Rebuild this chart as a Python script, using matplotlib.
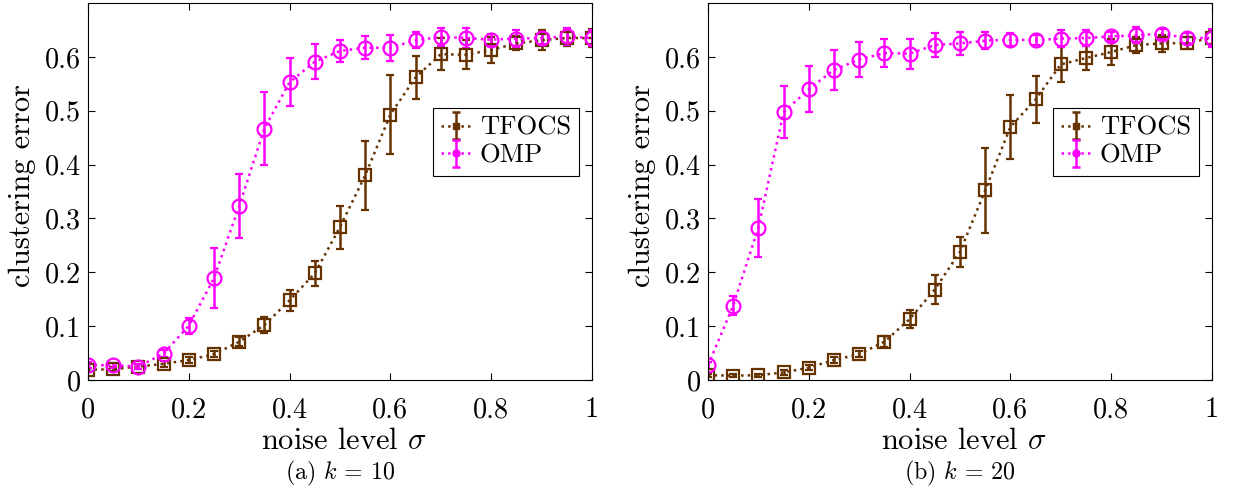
import matplotlib
matplotlib.use('Agg')
import matplotlib.pyplot as plt
from matplotlib.ticker import FuncFormatter
import numpy as np

plt.rcParams['font.family'] = 'cmr10'
plt.rcParams['mathtext.fontset'] = 'cm'
plt.rcParams['axes.formatter.use_mathtext'] = True

# noise levels
sigma = [0.0, 0.05, 0.1, 0.15, 0.2, 0.25, 0.3, 0.35, 0.4, 0.45, 0.5,
         0.55, 0.6, 0.65, 0.7, 0.75, 0.8, 0.85, 0.9, 0.95, 1.0]

# (a) k = 10
tfocs_k10 = [0.019, 0.020, 0.025, 0.030, 0.037, 0.048, 0.071, 0.102, 0.148, 0.198, 0.284,
             0.380, 0.493, 0.562, 0.605, 0.604, 0.613, 0.625, 0.631, 0.635, 0.635]
tfocs_k10_err = [0.004, 0.004, 0.004, 0.005, 0.005, 0.006, 0.008, 0.015, 0.019, 0.023, 0.040,
                 0.064, 0.074, 0.040, 0.030, 0.027, 0.024, 0.013, 0.018, 0.014, 0.016]
omp_k10 = [0.028, 0.027, 0.025, 0.049, 0.101, 0.189, 0.323, 0.467, 0.553, 0.591, 0.611,
           0.617, 0.617, 0.631, 0.637, 0.635, 0.632, 0.634, 0.635, 0.638, 0.635]
omp_k10_err = [0.005, 0.005, 0.004, 0.006, 0.015, 0.056, 0.060, 0.068, 0.044, 0.032, 0.021,
               0.021, 0.024, 0.015, 0.016, 0.018, 0.011, 0.016, 0.011, 0.016, 0.015]

# (b) k = 20
tfocs_k20 = [0.009, 0.008, 0.009, 0.014, 0.023, 0.037, 0.048, 0.071, 0.113, 0.168, 0.238,
             0.352, 0.470, 0.521, 0.586, 0.598, 0.609, 0.622, 0.625, 0.626, 0.635]
tfocs_k20_err = [0.003, 0.003, 0.003, 0.004, 0.004, 0.005, 0.006, 0.010, 0.017, 0.027, 0.028,
                 0.079, 0.060, 0.044, 0.033, 0.023, 0.024, 0.014, 0.016, 0.011, 0.015]
omp_k20 = [0.027, 0.138, 0.283, 0.497, 0.540, 0.576, 0.595, 0.607, 0.606, 0.622, 0.625,
           0.630, 0.632, 0.631, 0.634, 0.635, 0.638, 0.640, 0.643, 0.635, 0.635]
omp_k20_err = [0.006, 0.018, 0.054, 0.048, 0.043, 0.037, 0.032, 0.026, 0.028, 0.022, 0.022,
               0.016, 0.012, 0.009, 0.016, 0.015, 0.009, 0.015, 0.009, 0.010, 0.016]

panels = [
    (r'(a) $k\,=\,10$', tfocs_k10, tfocs_k10_err, omp_k10, omp_k10_err),
    (r'(b) $k\,=\,20$', tfocs_k20, tfocs_k20_err, omp_k20, omp_k20_err),
]

BROWN = '#663300'
MAGENTA = '#ff00ff'

fig = plt.figure(figsize=(12.39, 4.88), dpi=100)
renderer = fig.canvas.get_renderer()


def fit_size(text, target_px, base=20.0):
    """font size that makes `text` about target_px wide"""
    t = fig.text(0, 0, text, fontsize=base)
    w = t.get_window_extent(renderer).width
    t.remove()
    return base * target_px / w


tick_fs = fit_size('0.6', 36)
label_fs = fit_size(r'noise level $\sigma$', 166)
legend_fs = fit_size('TFOCS', 91)
cap_fs = fit_size(r'(a) $k\,=\,10$', 110)

lefts = [0.071, 0.5714]
fmt = FuncFormatter(lambda v, p: '%g' % round(v, 2))

for left, (caption, tf, tf_err, om, om_err) in zip(lefts, panels):
    ax = fig.add_axes([left, 0.2213, 0.4068, 0.7725])
    ax.errorbar(sigma, tf, yerr=tf_err, color=BROWN, ls=':', lw=1.8,
                marker='s', ms=8, mfc='none', mew=1.6, capsize=2.6, elinewidth=1.8,
                capthick=1.8)
    ax.errorbar(sigma, om, yerr=om_err, color=MAGENTA, ls=':', lw=1.8,
                marker='o', ms=10, mfc='none', mew=1.6, capsize=2.6, elinewidth=1.8,
                capthick=1.8)
    ax.set_xlim(0, 1)
    ax.set_ylim(0, 0.7)
    ax.set_xticks([0, 0.2, 0.4, 0.6, 0.8, 1])
    ax.set_yticks([0, 0.1, 0.2, 0.3, 0.4, 0.5, 0.6])
    ax.xaxis.set_major_formatter(fmt)
    ax.yaxis.set_major_formatter(fmt)
    ax.tick_params(direction='in', top=True, right=True, labelsize=tick_fs,
                   length=5, width=0.8)
    ax.tick_params(axis='x', pad=12)
    ax.tick_params(axis='y', pad=5)
    for sp in ax.spines.values():
        sp.set_linewidth(0.8)
    ax.set_xlabel(r'noise level $\sigma$', fontsize=label_fs, va='baseline')
    ax.xaxis.set_label_coords(0.507, -69 / 377)
    ax.set_ylabel('clustering error', fontsize=label_fs, va='center')
    ax.yaxis.set_label_coords(-66 / 504, 0.517)

    # legend proxies: small filled marker like the original
    h1 = ax.errorbar([np.nan], [np.nan], yerr=[np.nan], color=BROWN, ls=':', lw=1.8,
                     marker='s', ms=5, capsize=2.6, elinewidth=1.8, capthick=1.8)
    h2 = ax.errorbar([np.nan], [np.nan], yerr=[np.nan], color=MAGENTA, ls=':', lw=1.8,
                     marker='o', ms=5, capsize=2.6, elinewidth=1.8, capthick=1.8)
    leg = ax.legend([h1, h2], ['TFOCS', 'OMP'], loc='upper right',
                    bbox_to_anchor=(0.974, 0.721), fontsize=legend_fs, fancybox=False,
                    framealpha=1, edgecolor='black', borderpad=0.3,
                    handlelength=1.15, handletextpad=0.3, labelspacing=0.15,
                    borderaxespad=0)
    leg.get_frame().set_linewidth(0.8)

    fig.text(left + 0.4068 / 2, 9 / 488, caption, ha='center', va='baseline',
             fontsize=cap_fs)

fig.savefig('out.png', dpi=100)
